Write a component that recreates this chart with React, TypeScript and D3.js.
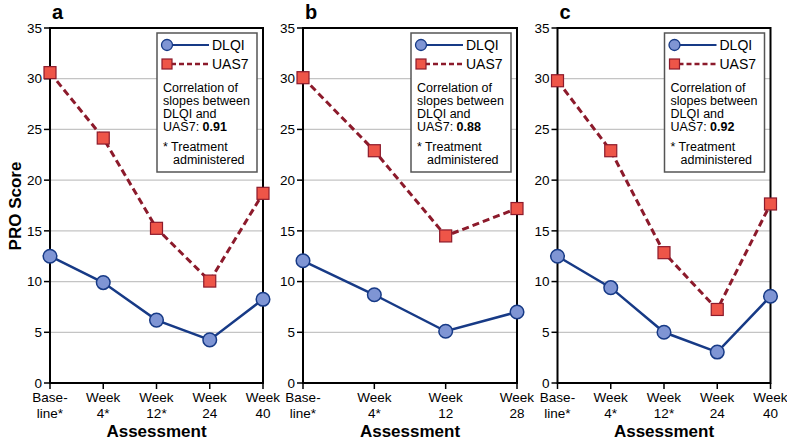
import React from 'react';
import * as d3 from 'd3';

const WIDTH = 787;
const HEIGHT = 440;

// Panel a
const catsA = ['Base-|line*', 'Week|4*', 'Week|12*', 'Week|24', 'Week|40'];
const dlqiA = [12.5, 9.9, 6.2, 4.25, 8.25];
const uasA = [30.6, 24.15, 15.25, 10.05, 18.7];

// Panel b
const catsB = ['Base-|line*', 'Week|4*', 'Week|12', 'Week|28'];
const dlqiB = [12.05, 8.7, 5.1, 7.0];
const uasB = [30.1, 22.9, 14.5, 17.2];

// Panel c
const catsC = ['Base-|line*', 'Week|4*', 'Week|12*', 'Week|24', 'Week|40'];
const dlqiC = [12.5, 9.4, 5.0, 3.05, 8.55];
const uasC = [29.8, 22.9, 12.85, 7.25, 17.65];

const corrA = '0.91';
const corrB = '0.88';
const corrC = '0.92';

const yTicks = [0, 5, 10, 15, 20, 25, 30, 35];

const NAVY = '#173a86';
const BLUE_FILL = '#7f95d4';
const MAROON = '#8c1a2b';
const RED_FILL = '#ee5548';

const FONT = '"Liberation Sans", Arial, sans-serif';

const TOP = 28;
const BOTTOM = 383;

type PanelProps = {
  letter: string;
  left: number;
  right: number;
  cats: string[];
  dlqi: number[];
  uas: number[];
  corr: string;
};

const y = d3.scaleLinear().domain([0, 35]).range([BOTTOM, TOP]);

const Panel: React.FC<PanelProps> = ({ letter, left, right, cats, dlqi, uas, corr }) => {
  const x = d3.scalePoint<number>().domain(d3.range(cats.length)).range([left, right]);
  const line = d3.line<number>().x((_, i) => x(i)!).y(d => y(d));
  const lgR = right - 6;
  const lgL = lgR - 100;
  const textLines = ['Correlation of', 'slopes between', 'DLQI and'];

  return (
    <g fontFamily={FONT}>
      <text x={left + 2} y={19} fontSize={20} fontWeight="bold">{letter}</text>

      {/* gridlines */}
      {yTicks.filter(t => t > 0 && t < 35).map(t => (
        <line key={t} x1={left} x2={right} y1={y(t)} y2={y(t)} stroke="#c4c4c4" strokeWidth={1.2} />
      ))}

      {/* frame */}
      <rect x={left} y={TOP} width={right - left} height={BOTTOM - TOP} fill="none" stroke="#000" strokeWidth={2} />

      {/* y ticks */}
      {yTicks.map(t => (
        <g key={t}>
          <line x1={left - 6} x2={left} y1={y(t)} y2={y(t)} stroke="#000" strokeWidth={1.5} />
          <text x={left - 8} y={y(t)} dy="0.35em" textAnchor="end" fontSize={13.5}>{t}</text>
        </g>
      ))}

      {/* x ticks */}
      {cats.map((c, i) => {
        const [l1, l2] = c.split('|');
        return (
          <g key={i}>
            <line x1={x(i)} x2={x(i)} y1={BOTTOM} y2={BOTTOM + 6} stroke="#000" strokeWidth={1.5} />
            <text x={x(i)} y={402} textAnchor="middle" fontSize={13.5}>{l1}</text>
            <text x={x(i)} y={418} textAnchor="middle" fontSize={13.5}>{l2}</text>
          </g>
        );
      })}

      <text x={(left + right) / 2} y={437} textAnchor="middle" fontSize={17} fontWeight="bold">Assessment</text>

      {/* series */}
      <path d={line(uas) ?? ''} fill="none" stroke={MAROON} strokeWidth={3} strokeDasharray="7 4" />
      <path d={line(dlqi) ?? ''} fill="none" stroke={NAVY} strokeWidth={2.5} />
      {uas.map((v, i) => (
        <rect key={i} x={x(i)! - 6} y={y(v) - 6} width={12} height={12} fill={RED_FILL} stroke={MAROON} strokeWidth={1.2} />
      ))}
      {dlqi.map((v, i) => (
        <circle key={i} cx={x(i)} cy={y(v)} r={6.8} fill={BLUE_FILL} stroke={NAVY} strokeWidth={1.5} />
      ))}

      {/* legend */}
      <rect x={lgL} y={33} width={100} height={139} fill="#fff" stroke="#555" strokeWidth={1.5} />
      <line x1={lgL + 10} x2={lgL + 52} y1={45} y2={45} stroke={NAVY} strokeWidth={2} />
      <circle cx={lgL + 10} cy={45} r={5.5} fill={BLUE_FILL} stroke={NAVY} strokeWidth={1.3} />
      <text x={lgL + 55} y={45} dy="0.35em" fontSize={14}>DLQI</text>
      <line x1={lgL + 14} x2={lgL + 52} y1={64} y2={64} stroke={MAROON} strokeWidth={2.5} strokeDasharray="5 3" />
      <rect x={lgL + 5} y={59} width={10} height={10} fill={RED_FILL} stroke={MAROON} strokeWidth={1.2} />
      <text x={lgL + 55} y={64} dy="0.35em" fontSize={14}>UAS7</text>
      {textLines.map((t, i) => (
        <text key={t} x={lgL + 6} y={88 + i * 12.8} dy="0.35em" fontSize={12.5}>{t}</text>
      ))}
      <text x={lgL + 6} y={88 + 3 * 12.8} dy="0.35em" fontSize={12.5}>
        UAS7: <tspan fontWeight="bold">{corr}</tspan>
      </text>
      <text x={lgL + 6} y={147} dy="0.35em" fontSize={12.5}>* Treatment</text>
      <text x={lgL + 16} y={160} dy="0.35em" fontSize={12.5}>administered</text>
    </g>
  );
};

const App: React.FC = () => {
  return (
    <svg width={WIDTH} height={HEIGHT} viewBox={`0 0 ${WIDTH} ${HEIGHT}`}
      style={{ position: 'absolute', left: 0, top: 0, background: '#fff' }}>
      <text transform={`translate(21,206) rotate(-90)`} textAnchor="middle" fontSize={17}
        fontWeight="bold" fontFamily={FONT}>PRO Score</text>
      <Panel letter="a" left={50} right={263} cats={catsA} dlqi={dlqiA} uas={uasA} corr={corrA} />
      <Panel letter="b" left={303} right={517} cats={catsB} dlqi={dlqiB} uas={uasB} corr={corrB} />
      <Panel letter="c" left={557.5} right={770.5} cats={catsC} dlqi={dlqiC} uas={uasC} corr={corrC} />
    </svg>
  );
};

export default App;
